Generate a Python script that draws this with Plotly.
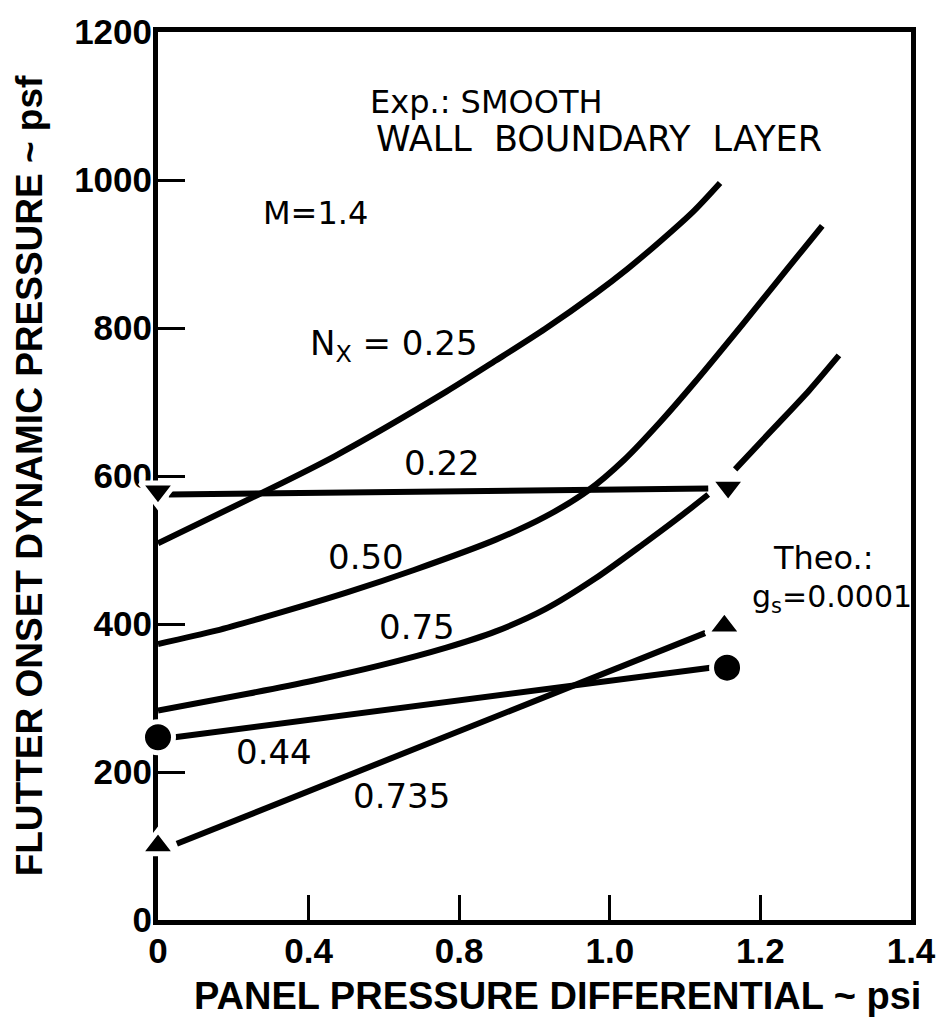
import plotly.graph_objects as go

# ---------------- data ----------------
# x values are in plotting units of the (evenly spaced) abscissa, 0..1.4
x_tick_pos = [0, 0.28, 0.56, 0.84, 1.12, 1.4]
x_tick_labels = ["0", "0.4", "0.8", "1.0", "1.2", "1.4"]
y_tick_vals = [0, 200, 400, 600, 800, 1000, 1200]
y_tick_labels = ["0", "200", "400", "600", "800", "1000", "1200"]

# theoretical curves
theo_025_x = [0, 0.187, 0.329, 0.536, 0.628, 0.720, 0.812, 0.873, 0.935, 0.996, 1.045]
theo_025_y = [509, 575, 627, 714, 756, 799, 846, 880, 918, 958, 996]

theo_050_x = [0, 0.108, 0.230, 0.353, 0.476, 0.628, 0.720, 0.799, 0.867, 0.935, 0.996, 1.088, 1.148, 1.198, 1.235]
theo_050_y = [373, 391, 416, 443, 473, 514, 545, 580, 622, 674, 725, 806, 860, 905, 938]

theo_075_x = [0, 0.169, 0.292, 0.413, 0.536, 0.628, 0.720, 0.812, 0.904, 0.965, 1.023]
theo_075_y = [283, 306, 324, 344, 368, 390, 420, 461, 509, 542, 575]

theo_upper_x = [1.073, 1.148, 1.211, 1.266]
theo_upper_y = [609, 667, 716, 763]

# experimental lines
exp_022_x = [0.02, 1.023]
exp_022_y = [575, 583]
exp_044_x = [0.031, 1.027]
exp_044_y = [247, 341]
exp_0735_x = [0.035, 1.018]
exp_0735_y = [103, 388]

# experimental points
pts_022_x = [0, 1.060]
pts_022_y = [580, 585]
pts_044_x = [0, 1.058]
pts_044_y = [247, 341]
pts_0735_x = [0, 1.053]
pts_0735_y = [100, 397]

TICK_FONT = "Liberation Sans"
TEXT_FONT = "DejaVu Sans"

fig = go.Figure()

theo_line = dict(color="black", width=6, shape="spline", smoothing=0.8)
for xs, ys in [(theo_025_x, theo_025_y), (theo_050_x, theo_050_y),
               (theo_075_x, theo_075_y), (theo_upper_x, theo_upper_y)]:
    fig.add_trace(go.Scatter(x=xs, y=ys, mode="lines", line=theo_line,
                             cliponaxis=False, hoverinfo="skip"))

exp_line = dict(color="black", width=6)
for xs, ys in [(exp_022_x, exp_022_y), (exp_044_x, exp_044_y), (exp_0735_x, exp_0735_y)]:
    fig.add_trace(go.Scatter(x=xs, y=ys, mode="lines", line=exp_line,
                             cliponaxis=False, hoverinfo="skip"))

for xs, ys, sym in [(pts_022_x, pts_022_y, "triangle-down"),
                    (pts_044_x, pts_044_y, "circle"),
                    (pts_0735_x, pts_0735_y, "triangle-up")]:
    fig.add_trace(go.Scatter(x=xs, y=ys, mode="markers",
                             marker=dict(symbol=sym, size=31, color="black",
                                         line=dict(color="white", width=5)),
                             cliponaxis=False, hoverinfo="skip"))

annots = [
    (0.390, 1105, "Exp.: SMOOTH", 32),
    (0.402, 1055, "WALL\u00a0 BOUNDARY\u00a0 LAYER", 35),
    (0.191, 955, "M=1.4", 32),
    (0.279, 776, "N<sub>X</sub> = 0.25", 34),
    (0.454, 617, "0.22", 34),
    (0.312, 490, "0.50", 34),
    (0.408, 396, "0.75", 34),
    (0.141, 227, "0.44", 34),
    (0.358, 168, "0.735", 34),
    (1.139, 489, "Theo.:", 32),
    (1.101, 434, "g<sub>s</sub>=0.0001", 30),
]
for ax, ay, txt, fs in annots:
    fig.add_annotation(x=ax, y=ay, xref="x", yref="y", text=txt, showarrow=False,
                       xanchor="left", yanchor="middle",
                       font=dict(family=TEXT_FONT, size=fs, color="black"))

# x-axis title (placed slightly right of centre as in the reference)
fig.add_annotation(x=0.530, y=-0.086, xref="paper", yref="paper",
                   text="PANEL PRESSURE DIFFERENTIAL ~ psi", showarrow=False,
                   xanchor="center", yanchor="middle",
                   font=dict(family=TICK_FONT, size=38, color="black", weight="bold"))

axis_common = dict(
    showline=True, linewidth=5, linecolor="black", mirror=True,
    ticks="inside", tickwidth=3, tickcolor="black",
    showgrid=False, zeroline=False, layer="below traces",
    tickfont=dict(family=TICK_FONT, size=35, color="black", weight="bold"),
)

fig.update_layout(
    width=948, height=1021,
    margin=dict(l=158, r=28, t=26, b=101),
    paper_bgcolor="white", plot_bgcolor="white",
    showlegend=False,
    xaxis=dict(range=[0, 1.4], tickvals=x_tick_pos, ticktext=x_tick_labels,
               ticklen=25, ticklabelstandoff=-4, **axis_common),
    yaxis=dict(range=[0, 1200], tickvals=y_tick_vals, ticktext=y_tick_labels,
               ticklen=27, ticklabelstandoff=-6,
               title=dict(text="FLUTTER ONSET DYNAMIC PRESSURE ~ psf", standoff=22,
                          font=dict(family=TICK_FONT, size=37, color="black", weight="bold")),
               **axis_common),
)

fig.write_html("out.html")
